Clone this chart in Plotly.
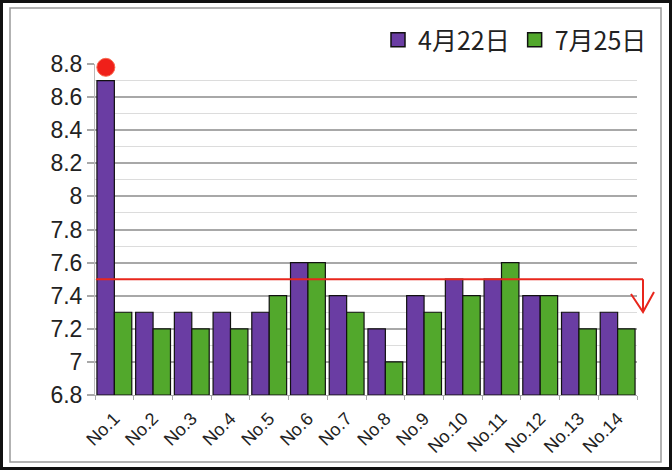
import plotly.graph_objects as go

categories = ["No.1", "No.2", "No.3", "No.4", "No.5", "No.6", "No.7",
              "No.8", "No.9", "No.10", "No.11", "No.12", "No.13", "No.14"]
apr22 = [8.7, 7.3, 7.3, 7.3, 7.3, 7.6, 7.4, 7.2, 7.4, 7.5, 7.5, 7.4, 7.3, 7.3]
jul25 = [7.3, 7.2, 7.2, 7.2, 7.4, 7.6, 7.3, 7.0, 7.3, 7.4, 7.6, 7.4, 7.2, 7.2]
series_names = ["4月22日", "7月25日"]
y_ticks = [6.8, 7.0, 7.2, 7.4, 7.6, 7.8, 8.0, 8.2, 8.4, 8.6, 8.8]
y_tick_labels = ["6.8", "7", "7.2", "7.4", "7.6", "7.8", "8", "8.2", "8.4", "8.6", "8.8"]
threshold = 7.5
highlight_value = 8.8

W, H = 672, 470
L, R, T, B = 95, 35, 64, 75
pw, ph = W - L - R, H - T - B

def px(x):
    return (x - L) / pw

def py(y):
    return (H - B - y) / ph

purple = "#6A3DA3"
green = "#52A82C"
colors = [purple, green]
xs = list(range(len(categories)))

fig = go.Figure()
for vals, name, col in zip([apr22, jul25], series_names, colors):
    fig.add_trace(go.Bar(x=xs, y=[v - 6.8 for v in vals], base=6.8, name=name, showlegend=False,
                         marker=dict(color=col, line=dict(color="#111", width=1.2))))
for name, col in zip(series_names, colors):
    fig.add_trace(go.Scatter(x=[None], y=[None], mode="markers", name=name,
                             marker=dict(symbol="square", size=14, color=col, line=dict(color="#111", width=1.5))))
fig.add_trace(go.Scatter(x=[-0.22], y=[highlight_value - 0.02], mode="markers", showlegend=False,
                         cliponaxis=False,
                         marker=dict(color="#F0201A", size=18, line=dict(color="#F86A50", width=1))))

shapes = []
shapes.append(dict(type="rect", xref="paper", yref="paper", x0=px(1.5), x1=px(670.5), y0=py(468.5), y1=py(1.5),
                   line=dict(color="#111", width=3), layer="below"))
shapes.append(dict(type="rect", xref="paper", yref="paper", x0=px(10), x1=px(661), y0=py(462), y1=py(8),
                   line=dict(color="#999", width=1.5), layer="below"))
shapes.append(dict(type="line", xref="paper", yref="y", x0=px(96), x1=px(643), y0=threshold, y1=threshold,
                   line=dict(color="#E8261C", width=2)))
shapes.append(dict(type="line", xref="paper", yref="y", x0=px(643), x1=px(643), y0=threshold, y1=threshold - 0.19,
                   line=dict(color="#E8261C", width=2)))
shapes.append(dict(type="path", xref="paper", yref="paper",
                   path=f"M {px(631)} {py(294)} L {px(643)} {py(312)} L {px(654)} {py(292)}",
                   line=dict(color="#E8261C", width=2)))

fig.update_layout(
    width=W, height=H,
    margin=dict(l=L, r=R, t=T, b=B),
    paper_bgcolor="white", plot_bgcolor="white",
    barmode="group", bargap=0.1, bargroupgap=0.0,
    shapes=shapes,
    font=dict(family="Liberation Sans, Arial, sans-serif", color="#222"),
    legend=dict(orientation="h", x=px(652), xanchor="right", y=py(40), yanchor="middle",
                font=dict(size=25, family="Noto Sans CJK JP, sans-serif", color="#222"),
                bgcolor="rgba(0,0,0,0)", itemwidth=30, traceorder="normal", tracegroupgap=0),
    xaxis=dict(range=[-0.5, 13.5], tickmode="array", tickvals=xs, ticktext=categories,
               tickangle=-45, tickfont=dict(size=18, color="#222"), ticks="", ticklabelstandoff=5,
               showgrid=False, zeroline=False, showline=True, linecolor="#aaa", linewidth=1,
               minor=dict(ticks="outside", tick0=0.5, dtick=1, ticklen=4, tickcolor="#aaa", showgrid=False)),
    yaxis=dict(range=[6.8, 8.8], tickmode="array", tickvals=y_ticks, ticktext=y_tick_labels,
               tickfont=dict(size=23, color="#222"), gridcolor="#a8a8a8", gridwidth=1.5,
               zeroline=False, showline=True, linecolor="#bbb", linewidth=1,
               ticks="outside", ticklen=7, tickcolor="#a8a8a8", tickwidth=1.5,
               minor=dict(tick0=6.9, dtick=0.2, showgrid=True, gridcolor="#dcdcdc", gridwidth=1)),
)

fig.write_html("out.html", config={"displayModeBar": False},
               post_script="document.body.style.margin='0';")
